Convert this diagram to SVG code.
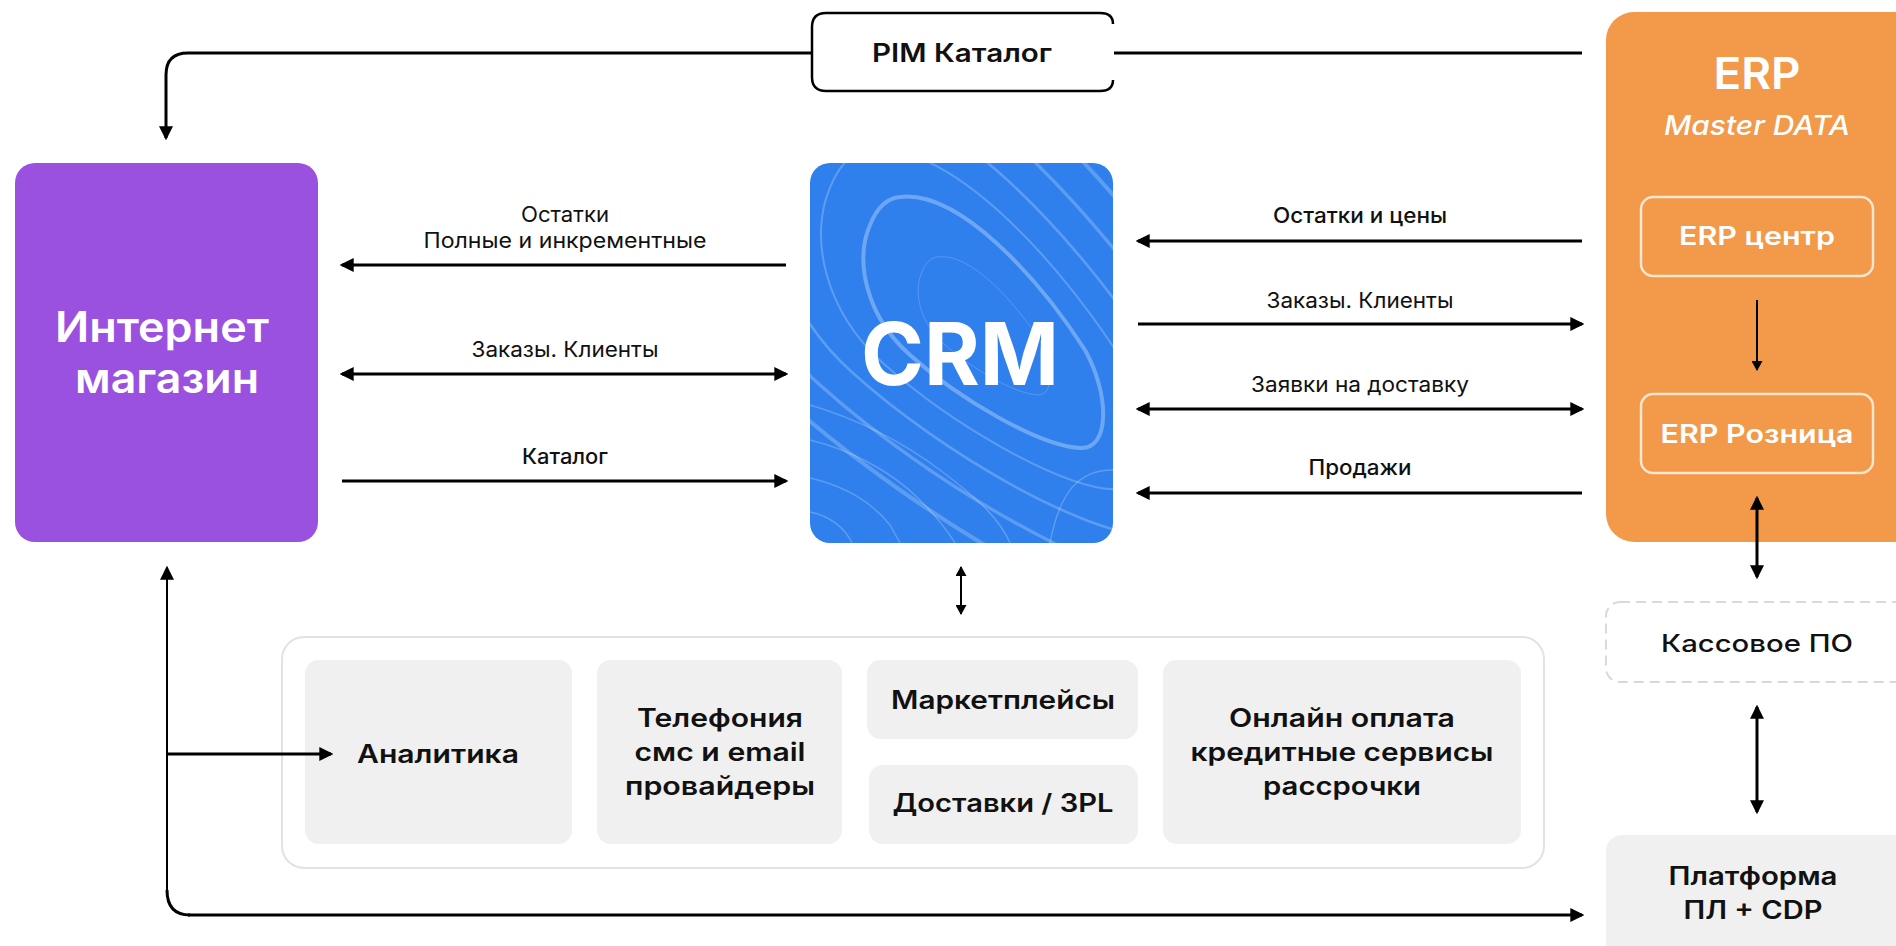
<svg xmlns="http://www.w3.org/2000/svg" width="1896" height="946" viewBox="0 0 1896 946">
<style>
text{font-family:Inter,"Noto Sans","DejaVu Sans",sans-serif;text-anchor:middle;fill:#111}
.lbl{font-size:21px;font-weight:400}
.lblm{font-size:21px;font-weight:500}
.box{font-size:25px;font-weight:600}
.w{fill:#fff}
.ln{fill:none;stroke:#000;stroke-width:3}
.thin{fill:none;stroke:#000;stroke-width:2}
.sub{fill:#F0F0F0}
.erpsub{fill:none;stroke:#FCE6D0;stroke-width:2.5}
.topo{fill:none;stroke:#fff;stroke-opacity:0.22;stroke-width:1.5}
</style>
<defs>
<marker id="ah" markerUnits="userSpaceOnUse" markerWidth="14" markerHeight="14" viewBox="0 0 12 12" refX="10" refY="6" orient="auto-start-reverse">
<path d="M0,0 L12,6 L0,12 z" fill="#000"/>
</marker>
<marker id="ahs" markerUnits="userSpaceOnUse" markerWidth="10" markerHeight="11" viewBox="0 0 10 11" refX="9" refY="5.5" orient="auto-start-reverse">
<path d="M0,0 L10,5.5 L0,11 z" fill="#000"/>
</marker>
<clipPath id="crmClip"><rect x="810" y="163" width="303" height="380" rx="20"/></clipPath>
<path id="loop" d="M900,197 C960,190 1040,280 1085,350 C1110,395 1110,450 1080,448 C1040,446 960,400 910,355 C865,315 855,260 870,225 C878,205 888,198 900,197 Z"/>
</defs>

<g id="pim">
<path d="M1113,24 Q1113,13 1100,13 H826 Q812,13 812,27 V77 Q812,91 826,91 H1100 Q1113,91 1113,80" fill="#fff" stroke="#000" stroke-width="2.5"/>
<text class="box" x="962" y="62" textLength="180" lengthAdjust="spacingAndGlyphs">PIM Каталог</text>
</g>

<g id="internet-shop">
<rect x="15" y="163" width="303" height="379" rx="20" fill="#9B51E0"/>
<text class="w" x="162" y="342" font-size="42" font-weight="600" textLength="214" lengthAdjust="spacingAndGlyphs">Интернет</text>
<text class="w" x="167" y="393" font-size="42" font-weight="600" textLength="184" lengthAdjust="spacingAndGlyphs">магазин</text>
</g>

<g id="crm">
<rect x="810" y="163" width="303" height="380" rx="20" fill="#2F80ED"/>
<g clip-path="url(#crmClip)">
<use href="#loop" fill="none" stroke="#fff" stroke-opacity="0.3" stroke-width="4"/>
<use href="#loop" class="topo" transform="translate(985 330) scale(0.55) translate(-985 -330)"/>
<use href="#loop" class="topo" transform="translate(985 330) scale(1.35) translate(-985 -330)"/>
<use href="#loop" class="topo" transform="translate(985 330) scale(1.75) translate(-985 -330)"/>
<use href="#loop" class="topo" transform="translate(985 330) scale(2.2) translate(-985 -330)"/>
<use href="#loop" class="topo" transform="translate(985 330) scale(2.7) translate(-985 -330)"/>
<path class="topo" d="M810,405 C860,420 900,440 940,470 C980,500 1000,520 1010,543"/>
<path class="topo" d="M810,440 C850,450 890,470 920,500 C940,520 950,535 955,543"/>
<path class="topo" d="M810,478 C840,485 870,500 890,525 L900,543"/>
<path class="topo" d="M810,512 C830,516 845,528 852,543"/>
<path class="topo" d="M1113,470 C1080,470 1060,490 1050,543"/>
</g>
<text class="w" x="960" y="385" font-size="86" font-weight="700" textLength="198" lengthAdjust="spacingAndGlyphs">CRM</text>
</g>

<g id="erp">
<rect x="1606" y="12" width="320" height="530" rx="28" fill="#F2994A"/>
<text class="w" x="1757" y="89" font-size="44" font-weight="600" textLength="87" lengthAdjust="spacingAndGlyphs">ERP</text>
<text class="w" x="1757" y="135" font-size="27" font-weight="500" font-style="italic" textLength="186" lengthAdjust="spacingAndGlyphs">Master DATA</text>
</g>
<g id="erp-center">
<rect class="erpsub" x="1641" y="197" width="232" height="79" rx="12"/>
<text class="w box" x="1757" y="245" textLength="156" lengthAdjust="spacingAndGlyphs">ERP центр</text>
</g>
<g id="erp-retail">
<rect class="erpsub" x="1641" y="394" width="232" height="79" rx="12"/>
<text class="w box" x="1757" y="443" textLength="193" lengthAdjust="spacingAndGlyphs">ERP Розница</text>
</g>

<g id="pos">
<rect x="1606" y="602" width="320" height="80" rx="14" fill="#fff" stroke="#D9D9D9" stroke-width="2" stroke-dasharray="10 6"/>
<text x="1757" y="652" font-size="24" font-weight="500" textLength="192" lengthAdjust="spacingAndGlyphs">Кассовое ПО</text>
</g>

<g id="loyalty">
<rect x="1606" y="835" width="320" height="140" rx="16" fill="#F0F0F0"/>
<text class="box" x="1753" y="885" textLength="169" lengthAdjust="spacingAndGlyphs">Платформа</text>
<text class="box" x="1753" y="919" textLength="139" lengthAdjust="spacingAndGlyphs">ПЛ + CDP</text>
</g>

<g id="services">
<rect x="282" y="637" width="1262" height="231" rx="22" fill="#fff" stroke="#E2E2E2" stroke-width="2"/>
</g>
<g id="analytics">
<rect class="sub" x="305" y="660" width="267" height="184" rx="14"/>
<text class="box" x="438" y="763" textLength="162" lengthAdjust="spacingAndGlyphs">Аналитика</text>
</g>
<g id="telephony">
<rect class="sub" x="597" y="660" width="245" height="184" rx="14"/>
<text class="box" x="720" y="727" textLength="166" lengthAdjust="spacingAndGlyphs">Телефония</text>
<text class="box" x="720" y="761" textLength="171" lengthAdjust="spacingAndGlyphs">смс и email</text>
<text class="box" x="720" y="795" textLength="190" lengthAdjust="spacingAndGlyphs">провайдеры</text>
</g>
<g id="marketplaces">
<rect class="sub" x="867" y="660" width="271" height="79" rx="14"/>
<text class="box" x="1003" y="709" textLength="224" lengthAdjust="spacingAndGlyphs">Маркетплейсы</text>
</g>
<g id="delivery">
<rect class="sub" x="869" y="765" width="269" height="79" rx="14"/>
<text class="box" x="1003" y="812" textLength="221" lengthAdjust="spacingAndGlyphs">Доставки / 3PL</text>
</g>
<g id="payment">
<rect class="sub" x="1163" y="660" width="358" height="184" rx="14"/>
<text class="box" x="1342" y="727" textLength="226" lengthAdjust="spacingAndGlyphs">Онлайн оплата</text>
<text class="box" x="1342" y="761" textLength="303" lengthAdjust="spacingAndGlyphs">кредитные сервисы</text>
<text class="box" x="1342" y="795" textLength="158" lengthAdjust="spacingAndGlyphs">рассрочки</text>
</g>

<g id="connectors">
<path class="ln" stroke-width="2.5" d="M812,53 H188 Q166,53 166,75 V138" marker-end="url(#ah)"/>
<path class="ln" stroke-width="2.5" d="M1114,53 H1582"/>
<path class="ln" d="M786,265 L342,265" marker-end="url(#ah)"/>
<path class="ln" d="M342,374 L786,374" marker-start="url(#ah)" marker-end="url(#ah)"/>
<path class="ln" d="M342,481 L786,481" marker-end="url(#ah)"/>
<path class="ln" d="M1582,241 L1138,241" marker-end="url(#ah)"/>
<path class="ln" d="M1138,324 L1582,324" marker-end="url(#ah)"/>
<path class="ln" d="M1138,409 L1582,409" marker-start="url(#ah)" marker-end="url(#ah)"/>
<path class="ln" d="M1582,493 L1138,493" marker-end="url(#ah)"/>
<path class="thin" stroke-width="1.6" d="M961,567 L961,614" marker-start="url(#ahs)" marker-end="url(#ahs)"/>
<path class="thin" d="M1757,300 L1757,370" marker-end="url(#ahs)"/>
<path class="ln" stroke-width="2.5" d="M1757,498 L1757,577" marker-start="url(#ah)" marker-end="url(#ah)"/>
<path class="ln" stroke-width="2.5" d="M1757,707 L1757,812" marker-start="url(#ah)" marker-end="url(#ah)"/>
<path class="thin" stroke-width="2.2" d="M167,893 V568" marker-end="url(#ah)"/>
<path class="ln" stroke-width="2.2" d="M167,890 Q167,915 190,915"/>
<path class="ln" stroke-width="3.2" d="M188,915 H1582" marker-end="url(#ah)"/>
<path class="ln" stroke-width="2.5" d="M167,754 L331,754" marker-end="url(#ah)"/>
<text class="lbl" x="565" y="222" textLength="88" lengthAdjust="spacingAndGlyphs">Остатки</text>
<text class="lbl" x="565" y="248" textLength="283" lengthAdjust="spacingAndGlyphs">Полные и инкрементные</text>
<text class="lbl" x="565" y="357" textLength="187" lengthAdjust="spacingAndGlyphs">Заказы. Клиенты</text>
<text class="lblm" x="565" y="464" textLength="86" lengthAdjust="spacingAndGlyphs">Каталог</text>
<text class="lblm" x="1360" y="223" textLength="174" lengthAdjust="spacingAndGlyphs">Остатки и цены</text>
<text class="lbl" x="1360" y="308" textLength="187" lengthAdjust="spacingAndGlyphs">Заказы. Клиенты</text>
<text class="lbl" x="1360" y="392" textLength="218" lengthAdjust="spacingAndGlyphs">Заявки на доставку</text>
<text class="lblm" x="1360" y="475" textLength="103" lengthAdjust="spacingAndGlyphs">Продажи</text>
</g>
</svg>
